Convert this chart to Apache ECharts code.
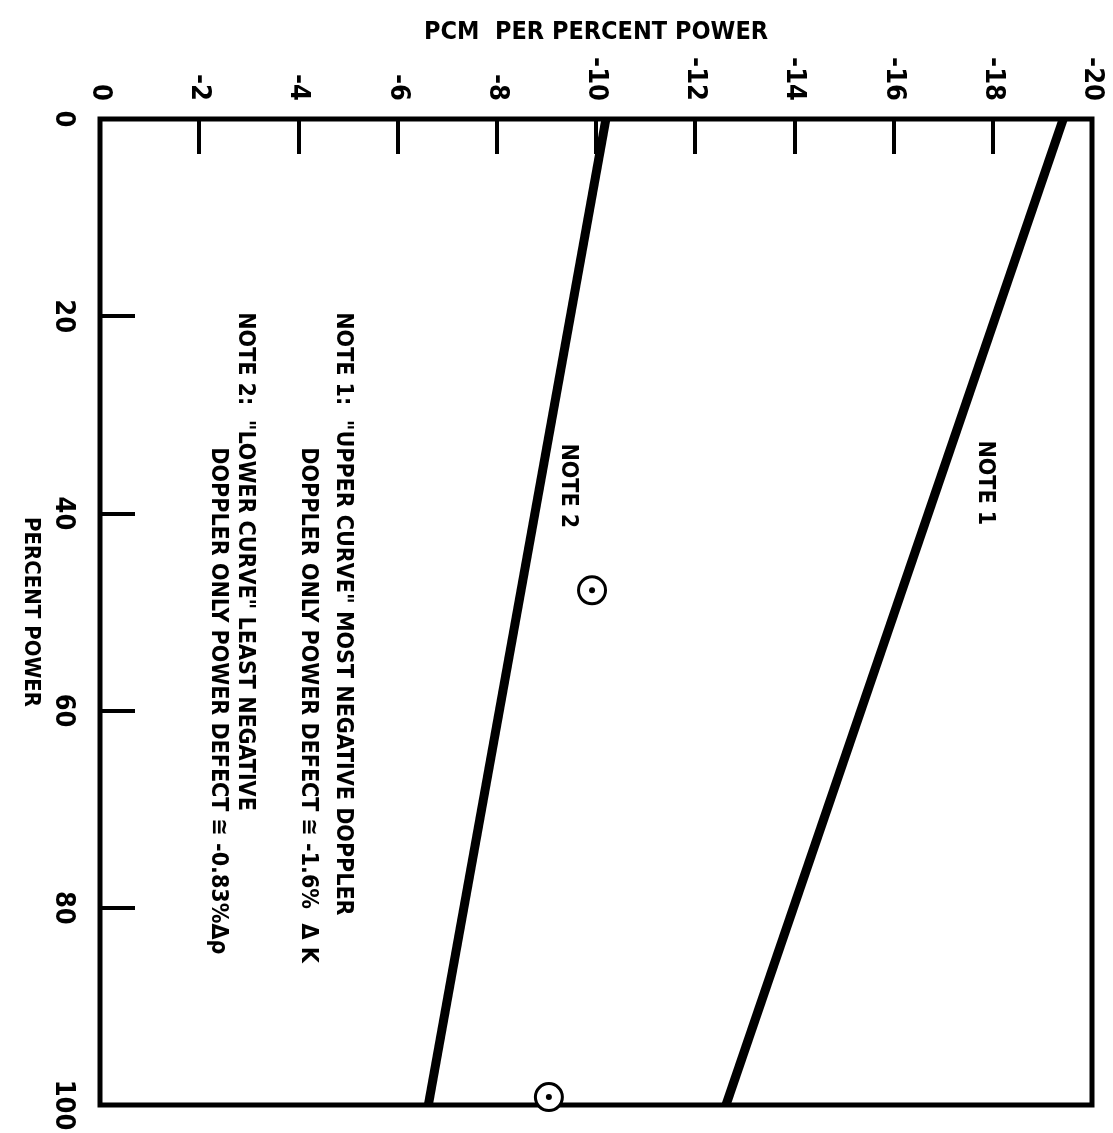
<!DOCTYPE html>
<html><head><meta charset="utf-8">
<script src="https://cdn.jsdelivr.net/npm/echarts@6/dist/echarts.min.js"></script>
<style>html,body{margin:0;padding:0;background:#fff}#c{width:1113px;height:1133px}</style>
</head><body><div id="c"></div>
<script>
// ---- data ----
const percentPower = [0, 100];
const upperCurve = [-19.42, -12.62];   // NOTE 1 (most negative)
const lowerCurve = [-10.2, -6.62];     // NOTE 2 (least negative)
const circlePower = [47.8, 99.2];
const circlePcm = [-9.92, -9.05];
const pcmTickLabels = {"0":"0","-2":"-2","-4":"-4","-6":"-6","-8":"-8","-10":"-10","-12":"-12","-14":"-14","-16":"-16","-18":"-18","-20":"-20"};
const powerTickLabels = {"0":"0","20":"20","40":"40","60":"60","80":"80","100":"100"};
const xTitle = 'PCM  PER PERCENT POWER';
const yTitle = 'PERCENT POWER';
const noteTexts = [
  'NOTE 1',
  'NOTE 2',
  'NOTE 1:  "UPPER CURVE" MOST NEGATIVE DOPPLER',
  'DOPPLER ONLY POWER DEFECT \u2245 -1.6%  \u0394 K',
  'NOTE 2:  "LOWER CURVE" LEAST NEGATIVE',
  'DOPPLER ONLY POWER DEFECT \u2245 -0.83%\u0394\u03C1'
];
const notePcm = [-17.84, -9.44, -4.9, -4.19, -2.92, -2.38];
const notePower = [32.6, 32.9, 19.6, 33.3, 19.6, 33.3];

const FONT = "'Liberation Sans Narrow','DejaVu Sans Condensed',sans-serif";
const chart = echarts.init(document.getElementById('c'), null, {renderer: 'canvas'});
chart.setOption({
  backgroundColor: '#fff',
  animation: false,
  grid: {left: 100, top: 119, right: 21, bottom: 28, containLabel: false, outerBoundsMode: 'none',
         show: true, borderColor: '#000', borderWidth: 5, backgroundColor: 'transparent'},
  xAxis: {
    type: 'value', position: 'top', min: -20, max: 0, interval: 2, inverse: true,
    axisLine: {show: false},
    axisTick: {show: true, inside: true, length: 35, lineStyle: {color: '#000', width: 4}},
    splitLine: {show: false},
    axisLabel: {rotate: -90, margin: 18, color: '#000', fontFamily: FONT, fontWeight: 'bold', fontSize: 27,
                formatter: v => pcmTickLabels[String(v)] ?? String(v)},
    name: xTitle, nameLocation: 'middle', nameGap: 74,
    nameTextStyle: {color: '#000', fontFamily: FONT, fontWeight: 'bold', fontSize: 25}
  },
  yAxis: {
    type: 'value', min: 0, max: 100, interval: 20, inverse: true,
    axisLine: {show: false},
    axisTick: {show: true, inside: true, length: 35, lineStyle: {color: '#000', width: 4}},
    splitLine: {show: false},
    axisLabel: {rotate: -90, margin: 23, color: '#000', fontFamily: FONT, fontWeight: 'bold', fontSize: 27,
                formatter: v => powerTickLabels[String(v)] ?? String(v)},
    name: yTitle, nameLocation: 'middle', nameGap: 56, nameRotate: -90,
    nameTextStyle: {color: '#000', fontFamily: FONT, fontWeight: 'bold', fontSize: 22}
  },
  series: [
    {type: 'line', data: percentPower.map((p, i) => [upperCurve[i], p]), symbol: 'none',
     lineStyle: {color: '#000', width: 9}, z: 3},
    {type: 'line', data: percentPower.map((p, i) => [lowerCurve[i], p]), symbol: 'none',
     lineStyle: {color: '#000', width: 9}, z: 3},
    {type: 'scatter', data: circlePower.map((p, i) => [circlePcm[i], p]), symbol: 'circle', symbolSize: 27,
     itemStyle: {color: '#fff', borderColor: '#000', borderWidth: 3, opacity: 1}, z: 4},
    {type: 'scatter', data: circlePower.map((p, i) => [circlePcm[i], p]), symbol: 'circle', symbolSize: 6,
     itemStyle: {color: '#000', opacity: 1}, z: 5},
    {type: 'scatter', symbolSize: 0, z: 6, silent: true, itemStyle: {opacity: 1},
     data: noteTexts.map((t, i) => ({name: t, value: [notePcm[i], notePower[i]]})),
     label: {show: true, formatter: '{b}', rotate: -90, position: [0, 0], align: 'left', verticalAlign: 'middle',
             color: '#000', opacity: 1, fontFamily: FONT, fontWeight: 'bold', fontSize: 23}}
  ]
});
</script></body></html>
